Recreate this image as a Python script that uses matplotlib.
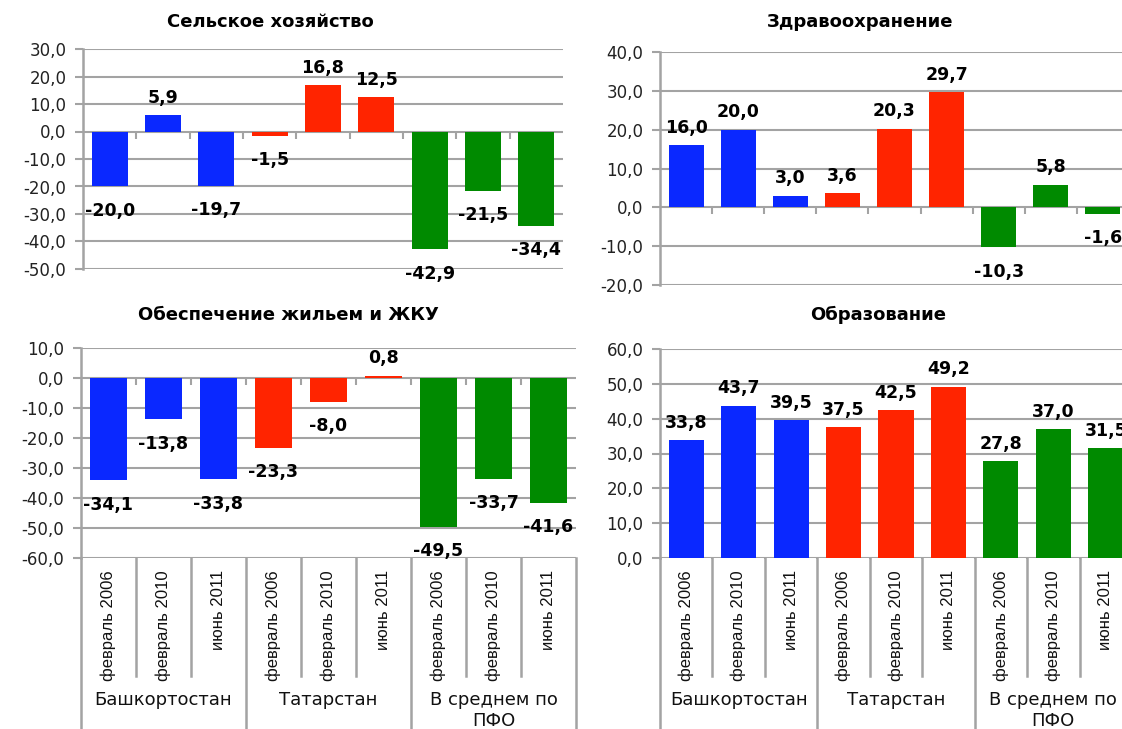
import matplotlib
matplotlib.use('Agg')
import matplotlib.pyplot as plt

plt.rcParams['font.family'] = ['DejaVu Sans']

# data (percent change)
periods = ['февраль 2006', 'февраль 2010', 'июнь 2011'] * 3
groups = ['Башкортостан', 'Татарстан', 'В среднем по\nПФО']
agriculture = [-20.0, 5.9, -19.7, -1.5, 16.8, 12.5, -42.9, -21.5, -34.4]
health = [16.0, 20.0, 3.0, 3.6, 20.3, 29.7, -10.3, 5.8, -1.6]
housing = [-34.1, -13.8, -33.8, -23.3, -8.0, 0.8, -49.5, -33.7, -41.6]
education = [33.8, 43.7, 39.5, 37.5, 42.5, 49.2, 27.8, 37.0, 31.5]

bar_colors = ['#0A28FF'] * 3 + ['#FF2400'] * 3 + ['#008A00'] * 3
grid_c = '#A3A3A3'

W, H = 1122, 729
fig = plt.figure(figsize=(W / 100, H / 100), dpi=100)


def px_axes(left, top, right, bottom):
    return fig.add_axes([left / W, 1 - bottom / H, (right - left) / W, (bottom - top) / H])


def fmt(v):
    return ('%.1f' % v).replace('.', ',')


def draw(ax, vals, ylo, yhi, step, title, tx, ty, cats=False, box=None):
    x = list(range(len(vals)))
    ax.bar(x, vals, width=0.67, color=bar_colors, zorder=3)
    ax.set_xlim(-0.5, len(vals) - 0.5)
    ax.set_ylim(ylo, yhi)
    ticks = list(range(ylo, yhi + 1, step))
    ax.set_yticks(ticks)
    ax.set_yticklabels([fmt(t) for t in ticks], fontsize=12, color='#222222')
    ax.yaxis.grid(True, color=grid_c, lw=1.5, zorder=0)
    ax.set_xticks([])
    for s in ['top', 'right', 'bottom']:
        ax.spines[s].set_visible(False)
    ax.spines['left'].set_color(grid_c)
    ax.spines['left'].set_linewidth(1.8)
    ax.tick_params(axis='y', length=6, width=1.5, color=grid_c, pad=6)
    # small ticks on the zero line
    bnds = [i + 0.5 for i in range(len(vals) - 1)]
    ax.plot(bnds, [0] * len(bnds), ls='', marker=3, ms=5, mew=1.5, color=grid_c, zorder=2)
    for xi, v in zip(x, vals):
        if v >= 0:
            ax.annotate(fmt(v), (xi, v), xytext=(0, 6), textcoords='offset points',
                        ha='center', va='bottom', fontsize=12.5, fontweight='bold')
        else:
            ax.annotate(fmt(v), (xi, v), xytext=(0, -11), textcoords='offset points',
                        ha='center', va='top', fontsize=12.5, fontweight='bold')
    fig.text(tx / W, 1 - ty / H, title, ha='center', va='center',
             fontsize=13, fontweight='bold')
    if cats:
        top_px, bot_px = box
        def fy(py):
            return (bot_px - py) / (bot_px - top_px)
        tr = ax.get_xaxis_transform()
        for xi, lab in enumerate(periods):
            ax.text(xi, fy(570), lab, rotation=90, ha='center', va='top', transform=tr,
                    fontsize=12, family=['Liberation Sans', 'DejaVu Sans'],
                    color='#111111', clip_on=False)
        for b in range(len(vals) + 1):
            xb = b - 0.5
            end = fy(740) if b % 3 == 0 else fy(676)
            ax.plot([xb, xb], [0, end], transform=tr, color=grid_c, lw=1.8, clip_on=False)
        for g, lab in enumerate(groups):
            ax.text(g * 3 + 1, fy(691), lab, ha='center', va='top', transform=tr,
                    fontsize=13, color='#111111', linespacing=1.2, clip_on=False)


ax1 = px_axes(83, 49, 563, 269)
draw(ax1, agriculture, -50, 30, 10, 'Сельское хозяйство', 270, 22)

ax2 = px_axes(660, 52, 1129, 285)
draw(ax2, health, -20, 40, 10, 'Здравоохранение', 860, 22)

ax3 = px_axes(81, 348, 576, 558)
draw(ax3, housing, -60, 10, 10, 'Обеспечение жильем и ЖКУ', 288, 315, cats=True, box=(348, 558))

ax4 = px_axes(660, 349, 1132, 558)
draw(ax4, education, 0, 60, 10, 'Образование', 878, 315, cats=True, box=(349, 558))

fig.savefig('out.png', dpi=100)
